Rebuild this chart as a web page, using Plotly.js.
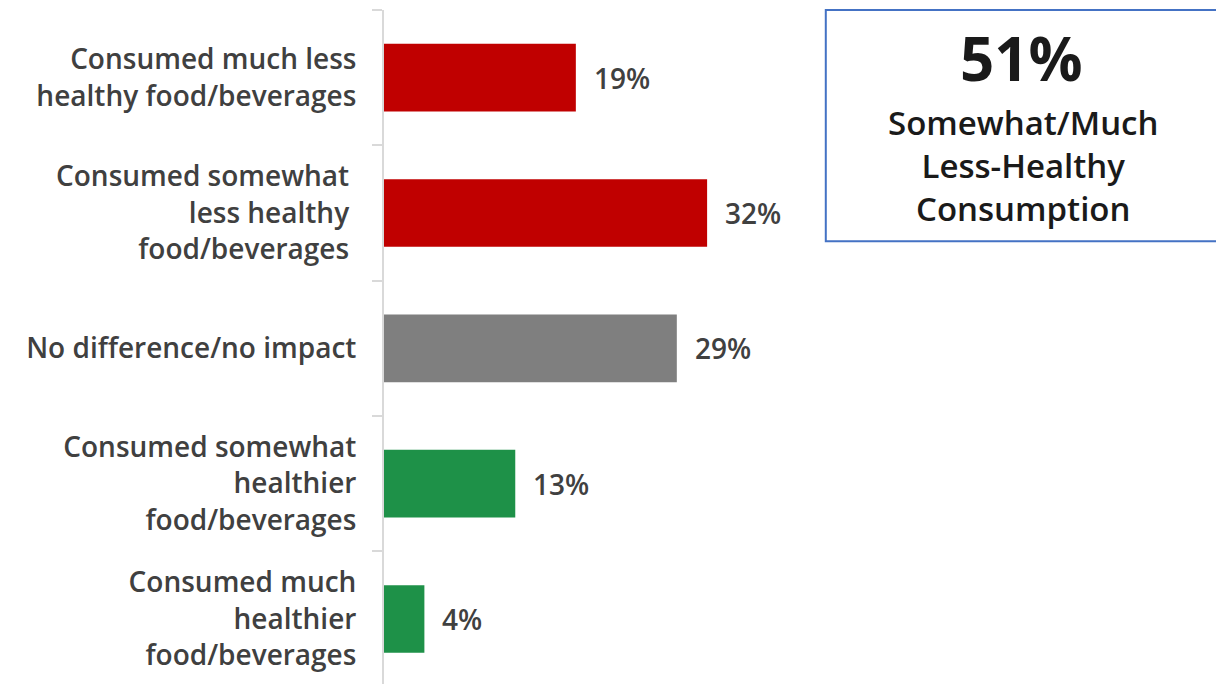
<!DOCTYPE html>
<html>
<head>
<meta charset="utf-8">
<script src="https://cdn.plot.ly/plotly-3.0.1.min.js"></script>
<style>
html,body{margin:0;padding:0;background:#fff;}
#chart{width:1216px;height:684px;}
</style>
</head>
<body>
<div id="chart"></div>
<script>
// Data
var categories = [
  "Consumed much less<br>healthy food/beverages",
  "Consumed somewhat\u00a0<br>less healthy\u00a0<br>food/beverages\u00a0",
  "No difference/no impact",
  "Consumed somewhat<br>healthier<br>food/beverages",
  "Consumed much<br>healthier<br>food/beverages"
];
var values = [19, 32, 29, 13, 4];
var valueLabels = ["19%", "32%", "29%", "13%", "4%"];
var calloutValue = "51%";
var calloutText = "Somewhat/Much<br>Less-Healthy<br>Consumption";

// Styles
var barColors = ["#C00000", "#C00000", "#7F7F7F", "#1E9148", "#1E9148"];
var FONT = "'Open Sans', 'Liberation Sans', Arial, sans-serif";
var TXT = "#404040";

var trace = {
  type: "bar",
  orientation: "h",
  x: values,
  y: categories,
  marker: {color: barColors, line: {width: 0}},
  hoverinfo: "none"
};

var annotations = values.map(function(v, i){
  return {
    x: v, y: categories[i], xref: "x", yref: "y",
    text: valueLabels[i], showarrow: false,
    xanchor: "left", yanchor: "middle", xshift: 16,
    font: {family: FONT, size: 28, weight: 600, color: TXT}
  };
});
annotations.push({
  x: 0.766, y: 0.929, xref: "paper", yref: "paper",
  text: "<b>" + calloutValue + "</b>", showarrow: false,
  xanchor: "center", yanchor: "middle",
  font: {family: FONT, size: 60, color: "#1A1A1A"}
});
annotations.push({
  x: 0.768, y: 0.770, xref: "paper", yref: "paper",
  text: calloutText, showarrow: false,
  xanchor: "center", yanchor: "middle",
  font: {family: FONT, size: 33, weight: 600, color: "#1A1A1A"}
});

var layout = {
  width: 1216, height: 684,
  margin: {l: 384, r: 0, t: 10, b: 0, pad: 0},
  paper_bgcolor: "#FFFFFF", plot_bgcolor: "#FFFFFF",
  showlegend: false,
  bargap: 0.5,
  font: {family: FONT, color: TXT},
  xaxis: {
    range: [0, 82.4], visible: false, showgrid: false, zeroline: false, fixedrange: true
  },
  yaxis: {
    type: "category",
    categoryorder: "array", categoryarray: categories,
    range: [4.48, -0.5],
    showline: true, linecolor: "#D9D9D9", linewidth: 2,
    ticks: "outside", tickson: "boundaries", ticklen: 10, tickcolor: "#D9D9D9", tickwidth: 2,
    ticklabelstandoff: 20,
    showgrid: false, zeroline: false,
    tickfont: {family: FONT, size: 28, weight: 600, color: TXT},
    fixedrange: true
  },
  shapes: [{
    type: "rect", xref: "paper", yref: "paper",
    x0: 0.531, x1: 1.01, y0: 0.657, y1: 1.0,
    line: {color: "#4472C4", width: 2}, fillcolor: "rgba(0,0,0,0)"
  }],
  annotations: annotations
};

Plotly.newPlot("chart", [trace], layout, {displayModeBar: false, staticPlot: true});
</script>
</body>
</html>
